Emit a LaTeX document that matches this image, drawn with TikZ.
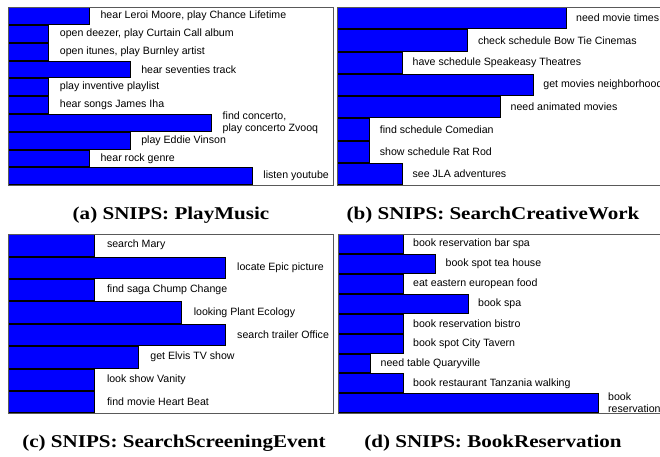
\documentclass[tikz,border=0pt]{standalone}
\usepackage{fontspec}
\setmainfont{Liberation Serif}
\setsansfont{Liberation Sans}
\newfontfamily\capfont[FakeStretch=1.17]{Liberation Serif}
\usepackage{tikz}

\begin{document}
\begin{tikzpicture}[x=1pt,y=-1pt,
	bar/.style={fill=blue,draw=black,line width=0.7pt},
	panel/.style={draw=black!65,line width=0.8pt},
	lbl/.style={anchor=west,inner sep=0pt,align=left,font=\sffamily\fontsize{10.6}{12}\selectfont},
	captext/.style={inner sep=0pt,font=\capfont\bfseries\fontsize{18}{20}\selectfont}]
	\useasboundingbox (0,0) rectangle (660,456);
	\clip (0,0) rectangle (660,456);

	% (a) PlayMusic
	\def \xa {8}
	\def \ya {7}
	\def \ha {17.8}
	\def \ua {40.7}
	\foreach \v/\t [count=\i from 0] in {2/{hear Leroi Moore, play Chance Lifetime}, 1/{open deezer, play Curtain Call album}, 1/{open itunes, play Burnley artist}, 3/{hear seventies track}, 1/{play inventive playlist}, 1/{hear songs James Iha}, 5/{find concerto,\\play concerto Zvooq}, 3/{play Eddie Vinson}, 2/{hear rock genre}, 6/{listen youtube}} {
		\draw[bar] (\xa,\ya+\i*\ha+0.5) rectangle (\xa+\v*\ua,\ya+\i*\ha+\ha-0.5);
		\node[lbl] (a\i) at (\xa+\v*\ua+11,\ya+\i*\ha+\ha/2) {\t};
	}
	\draw[panel] (\xa,\ya) rectangle (333,185);
	\node[captext] (capa) at (171,215) {(a) SNIPS: PlayMusic};

	% (b) SearchCreativeWork
	\def \xb {337}
	\def \hb {22.25}
	\def \ub {32.7}
	\foreach \v/\t [count=\i from 0] in {7/{need movie times}, 4/{check schedule Bow Tie Cinemas}, 2/{have schedule Speakeasy Theatres}, 6/{get movies neighborhood}, 5/{need animated movies}, 1/{find schedule Comedian}, 1/{show schedule Rat Rod}, 2/{see JLA adventures}} {
		\draw[bar] (\xb,\ya+\i*\hb+0.5) rectangle (\xb+\v*\ub,\ya+\i*\hb+\hb-0.5);
		\node[lbl] (b\i) at (\xb+\v*\ub+10,\ya+\i*\hb+\hb/2) {\t};
	}
	\draw[panel] (\xb,\ya) rectangle (700,185);
	\node[captext] (capb) at (493,215) {(b) SNIPS: SearchCreativeWork};

	% (c) SearchScreeningEvent
	\def \yc {234}
	\def \hc {22.4}
	\def \uc {43.4}
	\foreach \v/\t [count=\i from 0] in {2/{search Mary}, 5/{locate Epic picture}, 2/{find saga Chump Change}, 4/{looking Plant Ecology}, 5/{search trailer Office}, 3/{get Elvis TV show}, 2/{look show Vanity}, 2/{find movie Heart Beat}} {
		\draw[bar] (\xa,\yc+\i*\hc+0.5) rectangle (\xa+\v*\uc,\yc+\i*\hc+\hc-0.5);
		\node[lbl] (c\i) at (\xa+\v*\uc+12,\yc+\i*\hc+\hc/2) {\t};
	}
	\draw[panel] (\xa,\yc) rectangle (333,413);
	\node[captext] (capc) at (174,443) {(c) SNIPS: SearchScreeningEvent};

	% (d) BookReservation
	\def \xd {338}
	\def \hd {19.9}
	\def \ud {32.5}
	\foreach \v/\t [count=\i from 0] in {2/{book reservation bar spa}, 3/{book spot tea house}, 2/{eat eastern european food}, 4/{book spa}, 2/{book reservation bistro}, 2/{book spot City Tavern}, 1/{need table Quaryville}, 2/{book restaurant Tanzania walking}, 8/{book\\reservation}} {
		\draw[bar] (\xd,\yc+\i*\hd+0.5) rectangle (\xd+\v*\ud,\yc+\i*\hd+\hd-0.5);
		\node[lbl] (d\i) at (\xd+\v*\ud+10,\yc+\i*\hd+\hd/2) {\t};
	}
	\draw[panel] (\xd,\yc) rectangle (700,413);
	\node[captext] (capd) at (493,443) {(d) SNIPS: BookReservation};
\end{tikzpicture}
\end{document}
